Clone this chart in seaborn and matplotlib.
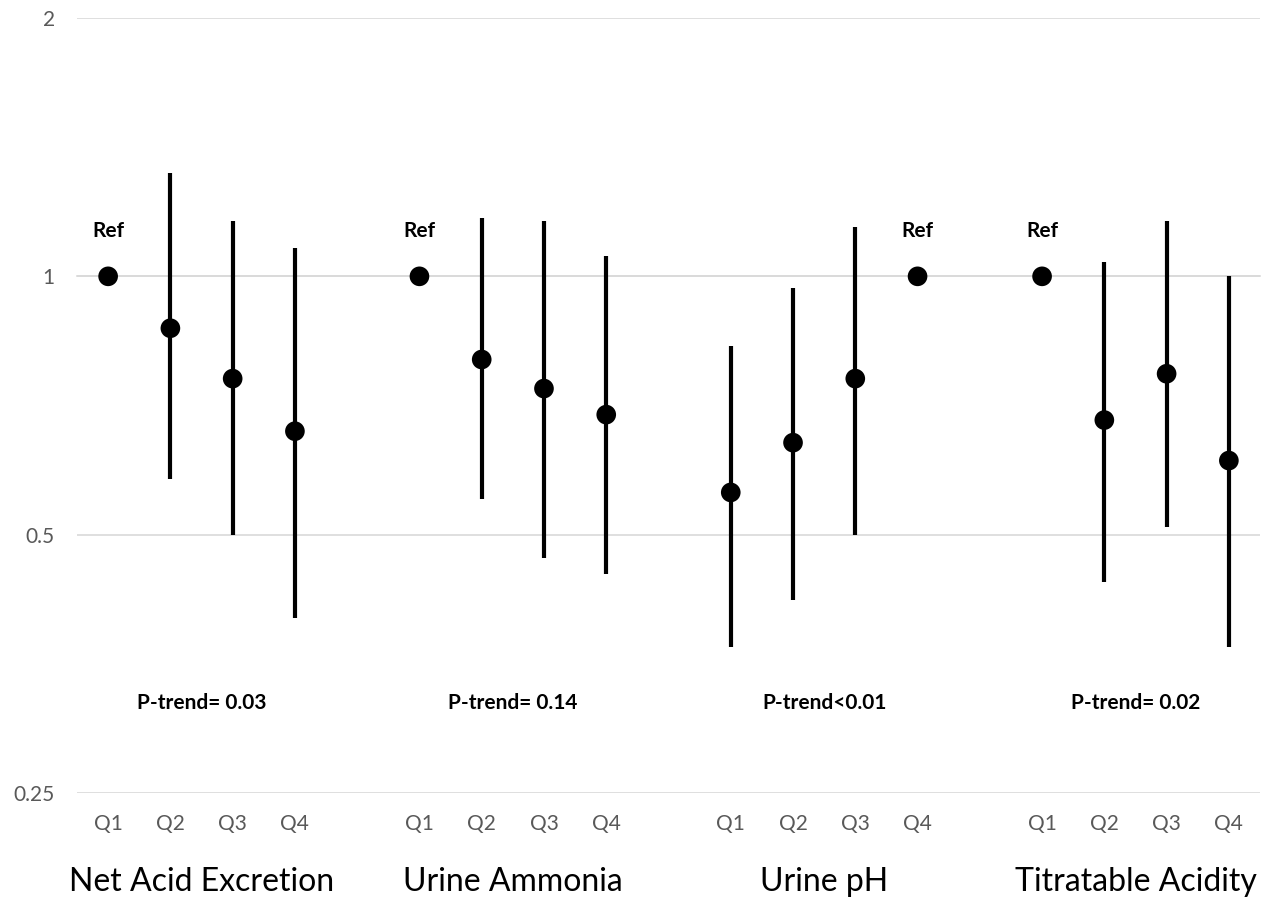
import numpy as np
import pandas as pd
import matplotlib
matplotlib.use('Agg')
import matplotlib.pyplot as plt
import matplotlib.transforms as mtransforms
from matplotlib.ticker import FixedLocator, NullFormatter
import seaborn as sns

groups = ['Net Acid Excretion', 'Urine Ammonia', 'Urine pH', 'Titratable Acidity']
quartiles = ['Q1', 'Q2', 'Q3', 'Q4']
ptrend = ['P-trend= 0.03', 'P-trend= 0.14', 'P-trend<0.01', 'P-trend= 0.02']

# odds ratios and 95% CI per group, Q1..Q4 (nan = reference, no CI)
or_nae = [1.0, 0.87, 0.76, 0.66]
lo_nae = [np.nan, 0.58, 0.50, 0.40]
hi_nae = [np.nan, 1.32, 1.16, 1.08]

or_amm = [1.0, 0.80, 0.74, 0.69]
lo_amm = [np.nan, 0.55, 0.47, 0.45]
hi_amm = [np.nan, 1.17, 1.16, 1.055]

or_ph = [0.56, 0.64, 0.76, 1.0]
lo_ph = [0.37, 0.42, 0.50, np.nan]
hi_ph = [0.83, 0.97, 1.14, np.nan]

or_ta = [1.0, 0.68, 0.77, 0.61]
lo_ta = [np.nan, 0.44, 0.51, 0.37]
hi_ta = [np.nan, 1.04, 1.16, 1.0]

rows = []
for g, (o, lo, hi) in enumerate([(or_nae, lo_nae, hi_nae), (or_amm, lo_amm, hi_amm),
                                  (or_ph, lo_ph, hi_ph), (or_ta, lo_ta, hi_ta)]):
    for q in range(4):
        rows.append({'group': groups[g], 'quartile': quartiles[q], 'slot': g * 5 + q,
                     'or': o[q], 'lo': lo[q], 'hi': hi[q]})
df = pd.DataFrame(rows)

sns.set_style('white')
plt.rcParams['font.family'] = ['Lato', 'DejaVu Sans']
grey = '#595959'

fig = plt.figure(figsize=(12.69, 9), dpi=100)
ax = fig.add_axes([77 / 1269, 1 - 793 / 900, (1260 - 77) / 1269, (793 - 18) / 900])

ci = df.dropna(subset=['lo'])
ax.vlines(ci['slot'], ci['lo'], ci['hi'], color='black', linewidth=3, zorder=3)
sns.scatterplot(data=df, x='slot', y='or', color='black', s=200, edgecolor='none',
                zorder=4, ax=ax, legend=False)

ax.set_yscale('log', base=2)
ax.set_ylim(0.25, 2)
ax.set_xlim(-0.5, 18.5)
ax.set_yticks([0.25, 0.5, 1, 2])
ax.set_yticklabels(['0.25', '0.5', '1', '2'])
ax.yaxis.set_minor_formatter(NullFormatter())
ax.yaxis.set_minor_locator(FixedLocator([]))
ax.tick_params(axis='y', length=0, pad=16, labelsize=15, labelcolor=grey)
ax.grid(axis='y', color='#d9d9d9', linewidth=1.2)
ax.set_xlabel('')
ax.set_ylabel('')

for s in ['top', 'right', 'left']:
    ax.spines[s].set_visible(False)
ax.spines['bottom'].set_position(('data', 1))
ax.spines['bottom'].set_color('#d9d9d9')
ax.spines['bottom'].set_linewidth(1.2)
ax.spines['bottom'].set_zorder(2)
ax.set_xticks(np.arange(-0.5, 19, 1))
ax.set_xticklabels([])
ax.tick_params(axis='x', direction='out', length=6, width=1.2, color='#d9d9d9')

trans = mtransforms.blended_transform_factory(ax.transData, ax.transAxes)
for _, r in df.iterrows():
    ax.text(r['slot'], -0.04, r['quartile'], transform=trans, ha='center', va='center',
            fontsize=15, color=grey)
    if np.isnan(r['lo']):
        ax.text(r['slot'], 1.13, 'Ref', ha='center', va='center', fontsize=15,
                fontweight='bold', color='black')

for g in range(4):
    cx = g * 5 + 1.5
    ax.text(cx, 0.318, ptrend[g], ha='center', va='center', fontsize=15,
            fontweight='bold', color='black')
    ax.text(cx, -0.115, groups[g], transform=trans, ha='center', va='center',
            fontsize=23, color='black')

fig.savefig('out.png', dpi=100, facecolor='white')
